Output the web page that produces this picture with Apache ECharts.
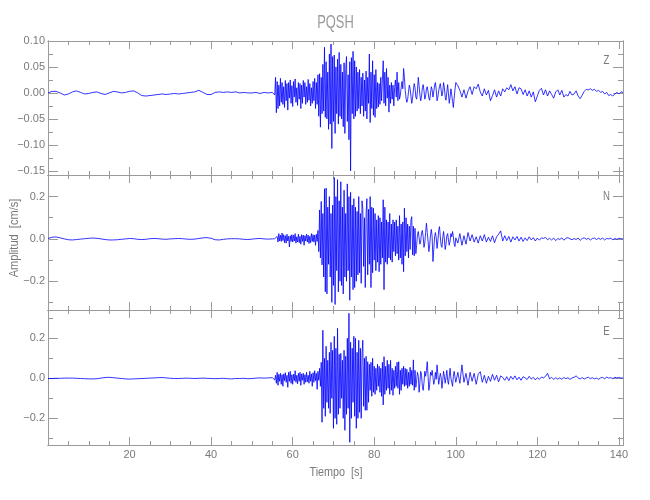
<!DOCTYPE html>
<html><head><meta charset="utf-8">
<script src="https://cdn.jsdelivr.net/npm/echarts@6/dist/echarts.min.js"></script>
<style>html,body{margin:0;padding:0;background:#fff}#c{width:650px;height:500px}</style>
</head><body><div id="c"></div>
<script>
// ---------- text ----------
const stationName = 'PQSH';
const componentNames = ['Z', 'N', 'E'];
const xAxisName = 'Tiempo  [s]';
const yAxisName = 'Amplitud  [cm/s]';

// ---------- sampling of the traces (seconds) ----------
const quietStart = 0, quietStep = 1;      // 0 .. 55 s
const activeStart = 55.2, activeStep = 0.2; // 55.2 .. 100 s
const tailStart = 100.5, tailStep = 0.5;  // 100.5 .. 141 s
const valueUnit = 0.001;                  // arrays below are in 0.001 cm/s

// ---------- Z component ----------
const zQuiet = [0,3,3,0,-4,-2,2,4,1,-2, -1,1,2,-1,-3,0,3,2,0,1, 3,4,0,-5,-6,-5,-4,-3,-2,-3, -2,-1,-2,-1,0,1,2,5,1,-3, -3,1,2,1,2,1,2,0,1,0, 0,1,-1,1,0,1];
const zActive = [
 0,2,-4,30,-38, 22,-30,15,-25,28, -18,20,-22,12,-28, 24,-15,18,-33,20, -10,25,-20,14,-26,
 22,-8,27,-18,10, -24,20,-12,18,-30, 15,-20,24,-8,20, -22,12,-18,26,-14, 18,-25,10,-20,22,
 -15,28,-30,20,-22, 35,-45,37,-66,30, -40,55,-35,88,-47, 60,-50,40,-70,75, -60,94,-107,70,-55,
 73,-78,50,-40,65, -60,78,-45,55,-50, 40,-65,58,-78,45, 70,-55,35,-90,60, -150,68,-40,80,-50,
 62,-45,50,-35,40, -30,45,-40,30,-25, 38,-45,25,-35,42, -50,30,-20,75,-57, 40,-30,62,-43,35,
 -47,45,-30,20,-27, 18,-22,30,-15,25, 62,-20,40,-25,47, -10,30,-37,15,-20, 20,-12,15,-25,10,
 25,-8,40,-15,20, -12,-4,10,22,8, 47,30,5,-10,-18, -12,2,15,8,-6, -20,-10,6,18,10,
 -8,-12,4,30,14, -4,-15,-6,10,16, 4,-12,-6,8,12, 2,-10,-14,0,12, 6,-8,2,15,20,
 6,-15,-8,4,12, 18,6,-6,2,20, 10,-8,-14,2,16, -2,-20,-8,8,-4, -16,-28,-10,6,20];
const zTail = [14,5,-8,6,-10,4,12,-3,12,8, 17,2,-6,8,-4,5,-15,-5,6,-8, 4,-6,8,2,10,6,16,4,12,-2,
 10,8,-3,6,-6,4,-8,2,-17,-6, 5,9,-4,6,-6,4,-3,-10,2,6, -4,5,-8,-3,-6,3,-4,-2,4,-6,
 -11,-4,3,7,6,8,5,7,3,5, 1,3,-2,1,-5,-3,-6,-2,1,-2, 2,1];

// ---------- N component ----------
const nQuiet = [2,8,9,5,0,-4,-5,-3,-1,1, 3,4,3,0,-3,-5,-5,-4,-2,0, 2,1,-2,-3,-2,1,2,1,-1,-2, 0,1,2,1,-1,-2,-1,2,5,6, 3,-4,-5,-2,0,1,1,0,-2,-3, -1,1,2,0,-1,0];
const nActive = [
 0,-1,1,-2,3, 12,-15,25,-10,18, -12,28,-8,20,-18, 15,-20,22,-10,12, -38,15,-12,20,-15,
 18,-10,25,-20,10, -15,22,-18,12,-25, 20,-12,18,-30,15, -10,22,-15,18,-22, 12,-18,25,-12,20,
 -15,18,-30,22,-12, 40,-60,137,-90,177, -123,120,-180,237,-250, 240,-260,150,-120,200, -180,120,-300,160,-220,
 290,-310,200,-150,280, -250,180,-200,270,-220, 150,-260,230,-180,120, -200,260,-150,200,-290, 220,-180,160,-240,190,
 -230,150,-200,130,-170, 200,-160,120,-210,180, 145,-130,100,-230,120, 190,-170,140,-120,200, -230,150,-160,145,-100,
 120,-150,90,-110,110, -155,100,-120,80,-90, 185,-240,150,-110,90, -120,80,-90,120,-100, 70,-110,90,-60,80,
 -80,90,-70,60,-100, 110,-90,70,-120,80, -155,145,-80,100,-60, 70,-90,60,-50,90, 105,-75,60,-80,50,
 -70,-30,20,35,5, -25,-10,30,40,10, -40,-20,30,74,30, -10,-60,-30,20,45, 10,-107,-50,10,30,
 5,-45,-10,40,58, 10,-30,-40,5,35, 0,-50,-25,15,25, -5,-30,-10,25,10, 35,10,-25,-36,5];
const nTail = [-20,25,-30,15,-25,30,-10,20,-15,10, -20,15,-10,20,-15,8,-12,15,-18,10, 22,38,-10,15,-8,12,-15,10,-5,12,
 -10,8,-12,5,-8,10,-5,6,-10,4, -6,5,2,7,-4,3,-5,4,-8,2, -3,5,-6,3,6,0,-4,2,-3,4,
 -7,2,5,-2,3,-5,2,4,-3,3, -2,4,-5,2,0,3,-4,2,-2,3, 1,0];

// ---------- E component ----------
const eQuiet = [-1,-1,0,0,1,1,1,0,-1,-2, -3,-3,-2,1,4,5,3,1,-1,-3, -4,-3,-2,-1,0,1,2,3,4,2, 0,-1,-1,0,1,0,-1,0,1,0, -1,-2,-1,0,-2,-3,-1,-1,0,-2, -1,1,2,1,2,3];
const eActive = [
 0,3,-8,15,-25, 30,-35,20,-15,25, -30,18,-40,22,-12, 28,-20,15,-45,30, -15,35,-25,18,-30,
 20,-12,38,-20,15, -28,25,-15,30,-35, 22,-10,25,-30,18, -20,30,-18,15,-25, 35,-15,22,-40,28,
 -20,38,-12,25,-55, 35,-10,50,-40,80, -220,240,-150,100,-190, 160,-120,90,-150,130, -175,180,-100,140,-250,
 210,-200,150,-230,250, -180,120,-150,125,-100, 90,-200,140,-260,110, -180,200,-150,325,-320, 180,-200,150,-120,210,
 -190,200,-250,130,-200, 190,-170,150,-200,120, 190,-140,100,-160,110, -160,83,-120,70,-60, 80,-90,100,-70,60,
 -80,50,-60,70,-40, 60,-70,50,-90,80, -133,108,-80,60,-60, 90,-50,70,-80,90, -60,50,-85,40,-50,
 60,-40,80,-50,83, -80,40,-60,50,-30, 60,-40,50,-35,45, -50,30,-40,55,-30, 40,-35,92,-60,40,
 -45,-10,30,10,-70, -20,35,15,-40,-60, -20,35,10,40,83, 10,-60,-30,30,15, 40,5,-30,-10,30,
 -5,67,20,-30,-35, 25,5,-50,-10,35, 10,-25,5,40,-10, -30,10,50,0,-20, -40,10,35,5,-20];
const eTail = [30,-25,67,-20,25,-35,30,-15,25,-30, 20,33,-20,15,-25,10,-15,20,-10,15, -18,12,5,-10,8,-12,10,-5,12,-8,
 6,-10,8,2,-6,10,-4,5,-8,3, -5,6,2,10,25,-3,5,-6,3,-4, 2,-5,4,-2,3,-6,2,5,12,2,
 -3,4,-4,2,5,-2,3,-3,1,-5, 2,4,-2,6,1,3,-2,5,2,4, 1,2];

// ---------- axes ----------
const xRange = [0, 141];
const xMajorTicks = [20, 40, 60, 80, 100, 120, 140];
const xMinorTicks = [5,10,15,25,30,35,45,50,55,65,70,75,85,90,95,105,110,115,125,130,135];
const zRange = [-0.158, 0.10];
const nRange = [-0.336, 0.302];
const eRange = [-0.3335, 0.3415];
const zMajorTicks = [-0.15, -0.10, -0.05, 0, 0.05, 0.10];
const zMinorTicks = [-0.125, -0.075, -0.025, 0.025, 0.075];
const neMajorTicks = [-0.2, 0, 0.2];
const neMinorTicks = [-0.3, -0.1, 0.1, 0.3];

// ---------- build ----------
function buildTrace(quiet, active, tail) {
  const pts = [];
  quiet.forEach((v, i) => pts.push([quietStart + i * quietStep, v * valueUnit]));
  active.forEach((v, i) => pts.push([+(activeStart + i * activeStep).toFixed(2), v * valueUnit]));
  tail.forEach((v, i) => pts.push([tailStart + i * tailStep, v * valueUnit]));
  return pts;
}
const traces = [buildTrace(zQuiet, zActive, zTail), buildTrace(nQuiet, nActive, nTail), buildTrace(eQuiet, eActive, eTail)];
const yRanges = [zRange, nRange, eRange];
const yMajors = [zMajorTicks, neMajorTicks, neMajorTicks];
const yMinors = [zMinorTicks, neMinorTicks, neMinorTicks];
const yDecimals = [2, 1, 1];

const frameColor = '#9a9a9a';
const labelColor = '#7a7a7a';
const fontFamily = '"Liberation Sans", Arial, sans-serif';
const grids = [
  {left: 48, width: 575, top: 41, height: 134},
  {left: 48, width: 575, top: 175, height: 135},
  {left: 48, width: 575, top: 310, height: 135}
].map(g => Object.assign(g, {outerBoundsMode: 'none', containLabel: false}));

function fmt(dec) {
  return v => (Math.abs(v) < 1e-9 ? (0).toFixed(dec) : v.toFixed(dec)).replace('-', '\u2212');
}

const xAxes = [], yAxes = [], series = [];
for (let g = 0; g < 3; g++) {
  ['bottom', 'top'].forEach(pos => {
    [true, false].forEach(major => {
      xAxes.push({
        type: 'value', gridIndex: g, position: pos, min: xRange[0], max: xRange[1],
        axisLine: {show: true, onZero: false, lineStyle: {color: frameColor, width: 1}},
        axisTick: {show: true, inside: true, length: major ? 8 : 4,
                   customValues: major ? xMajorTicks : xMinorTicks,
                   lineStyle: {color: frameColor, width: 1}},
        axisLabel: {show: major && pos === 'bottom' && g === 2, customValues: xMajorTicks,
                    margin: 4, color: labelColor, fontSize: 11, fontFamily: fontFamily},
        splitLine: {show: false}
      });
    });
  });
  ['left', 'right'].forEach(pos => {
    [true, false].forEach(major => {
      yAxes.push({
        type: 'value', gridIndex: g, position: pos, min: yRanges[g][0], max: yRanges[g][1],
        axisLine: {show: true, onZero: false, lineStyle: {color: frameColor, width: 1}},
        axisTick: {show: true, inside: true, length: major ? 10 : 5,
                   customValues: major ? yMajors[g] : yMinors[g],
                   lineStyle: {color: frameColor, width: 1}},
        axisLabel: {show: major && pos === 'left', customValues: yMajors[g], formatter: fmt(yDecimals[g]),
                    margin: 3, color: labelColor, fontSize: 11, fontFamily: fontFamily},
        splitLine: {show: false}
      });
    });
  });
  series.push({
    type: 'line', name: componentNames[g], xAxisIndex: g * 4, yAxisIndex: g * 4,
    data: traces[g], showSymbol: false, symbol: 'none', sampling: null,
    lineStyle: {color: '#0000ff', width: 0.8}, itemStyle: {color: '#0000ff'},
    clip: true, silent: true
  });
}

const graphic = [
  {type: 'text', x: 335.5, y: 23, scaleX: 0.68,
   style: {text: stationName, font: '19px ' + fontFamily, fill: '#9a9a9a', align: 'center', verticalAlign: 'middle'}},
  {type: 'text', x: 336, y: 472, scaleX: 0.8,
   style: {text: xAxisName, font: '13.5px ' + fontFamily, fill: labelColor, align: 'center', verticalAlign: 'middle'}},
  {type: 'text', x: 14, y: 238, rotation: Math.PI / 2, scaleX: 0.82,
   style: {text: yAxisName, font: '13.5px ' + fontFamily, fill: labelColor, align: 'center', verticalAlign: 'middle'}}
];
const letterY = [61, 196.5, 331.5];
componentNames.forEach((c, i) => graphic.push({type: 'text', x: 606.5, y: letterY[i], scaleX: 0.8,
  style: {text: c, font: '12px ' + fontFamily, fill: labelColor, align: 'center', verticalAlign: 'middle'}}));

const chart = echarts.init(document.getElementById('c'), null, {renderer: 'canvas'});
chart.setOption({
  animation: false,
  backgroundColor: '#ffffff',
  grid: grids,
  xAxis: xAxes,
  yAxis: yAxes,
  series: series,
  graphic: graphic,
  tooltip: {show: false}
});
</script>
</body></html>
